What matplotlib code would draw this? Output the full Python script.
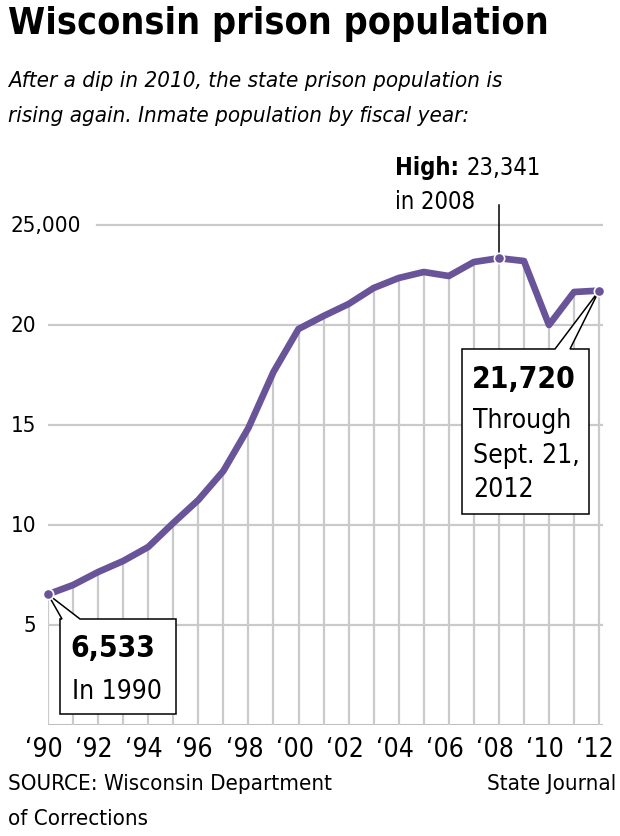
import matplotlib.pyplot as plt
from matplotlib.patches import Polygon

# Wisconsin inmate population by fiscal year
years = list(range(1990, 2013))
population = [6533, 7000, 7650, 8200, 8900, 10100, 11250, 12700, 14850, 17650,
              19800, 20450, 21050, 21850, 22350, 22650, 22450, 23150, 23341,
              23200, 20000, 21650, 21720]
ytick_values = [5000, 10000, 15000, 20000, 25000]
ytick_labels = ["5", "10", "15", "20", "25,000"]
xtick_years = years[::2]
xtick_labels = ["\u2018" + str(y)[2:] for y in xtick_years]

purple = "#6a5499"
grid = "#c9cbcb"
W, H = 620, 836
plt.rcParams["font.family"] = ["DejaVu Sans"]
plt.rcParams["font.stretch"] = "condensed"

fig = plt.figure(figsize=(W / 100, H / 100), dpi=100)
# plot area in pixels: x 48..603, y 725 (zero) up to 215
ax = fig.add_axes([48 / W, (H - 725) / H, 555 / W, 510 / H])
ax.set_xlim(1990, 1990 + 555 / 25.05)
ax.set_ylim(0, 25000 * 510 / 500)
ax.axis("off")


def px(x, y):
    # figure pixel (top-left origin) -> data coords of ax
    return ax.transData.inverted().transform((x, H - y))


def fpx(x, y):
    return x / W, 1 - y / H


# horizontal grid lines
for v in ytick_values:
    x0 = px(97, 0)[0] if v == 25000 else 1990
    ax.plot([x0, ax.get_xlim()[1]], [v, v], color=grid, lw=1.6, zorder=1)
ax.plot([1990, ax.get_xlim()[1]], [0, 0], color="#b5b8b8", lw=2, zorder=1)

# vertical grid lines up to the data line
ax.vlines(years, 0, population, color=grid, lw=1.6, zorder=1)

ax.plot(years, population, color=purple, lw=4.8, solid_joinstyle="round",
        solid_capstyle="round", zorder=4)

# y labels
for v, lab in zip(ytick_values, ytick_labels):
    ypix = ax.transData.transform((1990, v))[1]
    yb = H - ypix + 7
    if lab == "25,000":
        fig.text(*fpx(10, yb), lab, ha="left", va="baseline", fontsize=16)
    else:
        fig.text(*fpx(36, yb), lab, ha="right", va="baseline", fontsize=16)

# x labels
for yr, lab in zip(xtick_years, xtick_labels):
    xpix = ax.transData.transform((yr, 0))[0]
    fig.text(*fpx(xpix - 4, 757), lab, ha="center", va="baseline", fontsize=19)


def callout(x0, y0, x1, y1, b0, b1, tip_year, tip_val):
    tip = (tip_year, tip_val)
    verts = [px(x0, y0), px(b0, y0), tip, px(b1, y0), px(x1, y0),
             px(x1, y1), px(x0, y1)]
    ax.add_patch(Polygon(verts, closed=True, facecolor="white",
                         edgecolor="black", lw=1.1, zorder=3,
                         joinstyle="miter", clip_on=False))


callout(60, 619, 176, 714, 62, 80, years[0], population[0])
callout(462, 349, 589, 514, 555, 570, years[-1], population[-1])

# leader line for the high point
hx = years.index(2008)
ax.plot([2008, 2008], [population[hx], px(0, 205)[1]], color="black", lw=1.1,
        zorder=3, clip_on=False)

# markers
for i in [0, hx, len(years) - 1]:
    ax.scatter(years[i], population[i], s=55, color=purple, edgecolor="white",
               linewidth=1.2, zorder=6, clip_on=False)

# annotation texts
fig.text(*fpx(70, 657), "6,533", fontsize=21.5, fontweight="bold", va="baseline")
fig.text(*fpx(72, 699), "In 1990", fontsize=19, va="baseline")
fig.text(*fpx(472, 388), "21,720", fontsize=21.5, fontweight="bold", va="baseline")
fig.text(*fpx(473, 428), "Through", fontsize=19, va="baseline")
fig.text(*fpx(473, 463), "Sept. 21,", fontsize=19, va="baseline")
fig.text(*fpx(473, 497), "2012", fontsize=19, va="baseline")
fig.text(*fpx(395, 175), "High:", fontsize=17, fontweight="bold", va="baseline")
fig.text(*fpx(466, 175), "23,341", fontsize=17, va="baseline")
fig.text(*fpx(395, 209), "in 2008", fontsize=17, va="baseline")

# header
fig.text(*fpx(8, 34), "Wisconsin prison population", fontsize=27,
         fontweight="bold", va="baseline")
fig.text(*fpx(8, 87), "After a dip in 2010, the state prison population is",
         fontsize=16, style="italic", va="baseline")
fig.text(*fpx(8, 122), "rising again. Inmate population by fiscal year:",
         fontsize=16, style="italic", va="baseline")

# footer
fig.text(*fpx(8, 790), "SOURCE: Wisconsin Department", fontsize=16, va="baseline")
fig.text(*fpx(8, 825), "of Corrections", fontsize=16, va="baseline")
fig.text(*fpx(616, 790), "State Journal", fontsize=16, va="baseline", ha="right")

fig.savefig("out.png", dpi=100, facecolor="white")
